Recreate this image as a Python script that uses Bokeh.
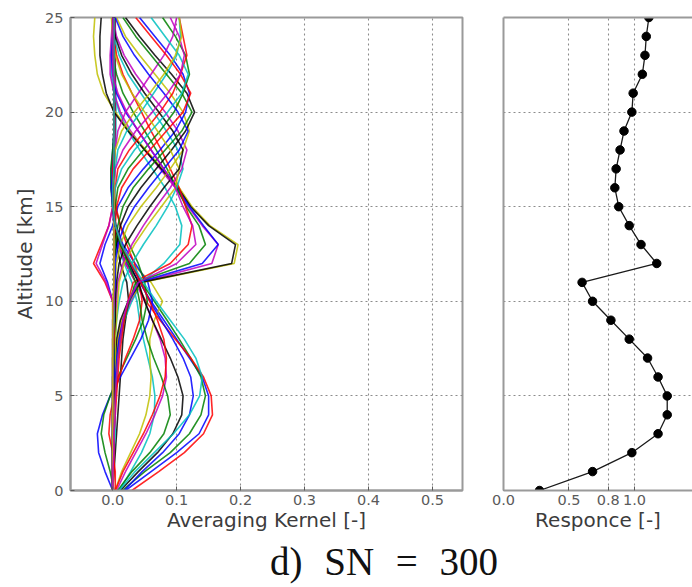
from bokeh.plotting import figure
from bokeh.models import Range1d, FixedTicker, LinearAxis, Div, PrintfTickFormatter
from bokeh.layouts import row, column
from bokeh.embed import file_html
from bokeh.resources import INLINE

# Altitude grid [km]
altitude = list(range(26))

# Averaging kernel rows (value at each altitude 0..25 km)
ak00 = [0.020,0.060,0.100,0.135,0.150,0.150,0.140,0.120,0.100,0.080,0.060,0.042,0.022,0.008,0.002,0.000,-0.002,-0.002,0.000,0.002,0.003,0.003,0.002,0.002,0.002,0.002]
ak01 = [0.015,0.050,0.090,0.120,0.138,0.145,0.138,0.122,0.104,0.085,0.065,0.045,0.028,0.014,0.005,0.000,-0.003,-0.003,0.000,0.002,0.004,0.004,0.004,0.003,0.003,0.003]
ak02 = [0.030,0.072,0.112,0.142,0.156,0.154,0.142,0.122,0.098,0.074,0.052,0.036,0.020,0.010,0.004,0.001,0.000,0.000,0.002,0.003,0.004,0.004,0.003,0.003,0.003,0.003]
ak03 = [0.010,0.028,0.045,0.058,0.065,0.066,0.062,0.055,0.048,0.042,0.038,0.030,0.018,0.008,0.002,0.000,0.000,0.002,0.004,0.005,0.005,0.005,0.004,0.004,0.004,0.004]
ak04 = [0.006,0.020,0.036,0.052,0.066,0.078,0.084,0.082,0.074,0.062,0.050,0.036,0.020,0.008,0.002,0.000,0.000,0.002,0.003,0.004,0.004,0.004,0.004,0.004,0.004,0.004]
ak05 = [0.004,0.014,0.028,0.042,0.052,0.058,0.060,0.058,0.058,0.065,0.078,0.060,0.030,0.012,0.004,0.000,-0.002,0.000,0.002,0.002,0.002,0.002,0.002,0.002,0.002,0.002]
ak06 = [0.000,0.002,0.004,0.006,0.008,0.010,0.012,0.014,0.016,0.020,0.025,0.022,0.012,0.006,0.003,0.002,0.002,0.002,0.002,0.002,0.002,0.002,0.002,0.002,0.002,0.002]
ak07 = [0.000,-0.012,-0.022,-0.024,-0.016,-0.004,0.012,0.028,0.044,0.056,0.062,0.055,0.035,0.016,0.005,0.000,-0.002,0.000,0.002,0.003,0.003,0.003,0.003,0.003,0.003,0.003]
ak08 = [0.002,-0.004,-0.012,-0.018,-0.014,-0.004,0.008,0.022,0.036,0.048,0.054,0.050,0.040,0.026,0.012,0.004,0.000,0.000,0.002,0.003,0.003,0.003,0.003,0.003,0.003,0.003]
ak09 = [0.004,0.004,0.000,-0.006,-0.004,0.002,0.010,0.020,0.032,0.042,0.046,0.042,0.034,0.022,0.012,0.005,0.002,0.002,0.002,0.003,0.003,0.003,0.003,0.003,0.003,0.003]
ak10 = [0.000,0.000,0.002,0.004,0.004,0.004,0.004,0.006,0.010,0.018,0.030,0.045,0.080,0.105,0.108,0.098,0.082,0.062,0.042,0.024,0.010,0.002,-0.002,-0.002,0.000,0.000]
ak11 = [0.000,0.000,0.000,0.002,0.002,0.002,0.002,0.004,0.008,0.016,0.028,0.044,0.155,0.165,0.140,0.118,0.098,0.074,0.050,0.028,0.012,0.002,-0.004,-0.004,-0.002,0.000]
ak12 = [0.000,0.000,0.000,0.000,0.002,0.002,0.002,0.004,0.008,0.014,0.026,0.046,0.190,0.196,0.152,0.124,0.104,0.078,0.052,0.026,0.004,-0.014,-0.024,-0.028,-0.030,-0.028]
ak13 = [0.000,0.000,0.000,0.000,0.000,0.002,0.002,0.004,0.006,0.012,0.024,0.044,0.186,0.192,0.150,0.122,0.102,0.076,0.050,0.024,0.002,-0.010,-0.016,-0.020,-0.020,-0.018]
ak14 = [0.000,0.000,0.000,0.002,0.002,0.002,0.004,0.006,0.010,0.016,0.026,0.040,0.140,0.165,0.142,0.120,0.100,0.080,0.060,0.040,0.020,0.006,0.000,-0.002,0.000,0.000]
ak15 = [0.000,0.000,0.002,0.002,0.002,0.004,0.006,0.008,0.012,0.018,0.026,0.036,0.120,0.145,0.135,0.115,0.100,0.085,0.068,0.050,0.032,0.016,0.006,0.000,0.000,0.000]
ak16 = [0.000,0.002,0.002,0.002,0.004,0.006,0.008,0.010,0.014,0.018,0.024,0.032,0.090,0.118,0.124,0.114,0.104,0.090,0.076,0.060,0.045,0.030,0.016,0.006,0.002,0.000]
ak17 = [0.000,0.000,0.000,0.002,0.002,0.002,0.002,0.002,0.004,0.006,0.010,0.016,0.030,0.048,0.068,0.086,0.100,0.110,0.102,0.084,0.064,0.044,0.024,0.010,0.002,0.000]
ak18 = [0.000,0.000,0.000,0.000,0.002,0.002,0.002,0.002,0.002,0.004,0.006,0.008,0.016,0.030,0.048,0.068,0.090,0.108,0.116,0.102,0.082,0.058,0.036,0.018,0.006,0.000]
ak19 = [0.000,0.000,0.000,0.000,0.000,0.002,0.002,0.002,0.002,0.002,0.004,0.004,0.006,0.012,0.024,0.044,0.068,0.090,0.110,0.120,0.110,0.090,0.066,0.042,0.020,0.006]
ak20 = [0.000,0.000,0.000,0.000,0.000,0.000,0.002,0.002,0.002,0.002,0.002,0.002,0.002,0.006,0.012,0.024,0.044,0.068,0.092,0.114,0.128,0.116,0.092,0.066,0.042,0.020]
ak21 = [0.000,0.000,0.000,0.000,0.000,0.000,0.000,0.002,0.002,0.002,0.000,-0.008,-0.020,-0.012,0.000,0.008,0.024,0.048,0.074,0.098,0.114,0.120,0.110,0.090,0.066,0.042]
ak22 = [0.000,0.000,0.000,0.000,0.000,0.000,0.000,0.000,0.002,0.002,0.002,0.002,0.002,0.002,0.002,0.004,0.008,0.024,0.048,0.074,0.096,0.110,0.120,0.114,0.098,0.078]
ak23 = [0.000,0.000,0.000,0.000,0.000,0.000,0.000,0.000,0.000,0.002,0.000,-0.012,-0.030,-0.018,-0.006,0.000,0.004,0.008,0.026,0.050,0.074,0.094,0.106,0.116,0.110,0.104]
ak24 = [0.000,0.000,0.000,0.000,0.000,0.000,0.000,0.000,0.000,0.000,0.002,0.002,0.002,0.002,0.002,0.002,0.002,0.004,0.008,0.022,0.044,0.064,0.084,0.100,0.106,0.104]
ak25 = [0.000,0.000,0.000,0.000,0.000,0.000,0.000,0.000,0.000,0.000,0.000,-0.010,-0.026,-0.016,-0.006,0.000,0.002,0.002,0.004,0.008,0.020,0.040,0.060,0.080,0.094,0.100]
ak26 = [0.000,0.000,0.000,0.002,0.002,0.002,0.002,0.004,0.004,0.006,0.008,0.010,0.018,0.034,0.054,0.076,0.098,0.104,0.090,0.070,0.050,0.030,0.014,0.004,0.000,-0.002]
ak27 = [0.000,0.000,0.000,0.000,0.000,0.002,0.002,0.002,0.002,0.004,0.004,0.006,0.010,0.020,0.038,0.058,0.080,0.104,0.110,0.094,0.072,0.050,0.030,0.014,0.004,0.000]
ak28 = [0.000,0.000,0.000,0.000,0.000,0.000,0.002,0.002,0.002,0.002,0.002,0.004,0.004,0.008,0.018,0.034,0.056,0.080,0.104,0.118,0.102,0.080,0.056,0.034,0.016,0.004]
ak29 = [0.000,0.000,0.000,0.000,0.000,0.000,0.000,0.002,0.002,0.002,0.002,0.002,0.002,0.004,0.008,0.016,0.032,0.056,0.082,0.108,0.124,0.108,0.084,0.060,0.036,0.016]
ak30 = [0.000,0.000,0.000,0.000,0.000,0.000,0.000,0.000,0.002,0.002,0.002,0.002,0.002,0.002,0.004,0.006,0.014,0.032,0.058,0.084,0.110,0.122,0.106,0.084,0.060,0.036]
ak31 = [0.000,0.000,0.000,0.000,0.000,0.000,0.000,0.000,0.000,0.002,0.002,0.002,0.002,0.002,0.002,0.002,0.004,0.014,0.034,0.060,0.086,0.108,0.118,0.104,0.082,0.060]
ak32 = [0.000,0.000,0.000,0.000,0.000,0.000,0.000,0.000,0.000,0.000,0.002,0.002,0.002,0.002,0.002,0.002,0.002,0.004,0.016,0.036,0.062,0.086,0.106,0.112,0.104,0.090]
ak33 = [0.000,0.000,0.000,0.000,0.000,0.000,0.000,0.000,0.000,0.000,0.000,0.002,0.002,0.002,0.002,0.002,0.002,0.002,0.004,0.014,0.034,0.058,0.080,0.098,0.108,0.104]
ak34 = [0.012,0.040,0.070,0.094,0.108,0.110,0.102,0.090,0.076,0.062,0.050,0.040,0.026,0.012,0.004,0.000,0.000,0.002,0.002,0.002,0.002,0.002,0.002,0.002,0.002,0.002]
ak35 = [0.018,0.046,0.078,0.104,0.120,0.126,0.122,0.110,0.094,0.076,0.058,0.044,0.028,0.014,0.004,0.000,-0.002,0.000,0.002,0.002,0.002,0.002,0.002,0.002,0.002,0.002]
ak36 = [0.008,0.030,0.058,0.080,0.090,0.086,0.076,0.064,0.054,0.046,0.042,0.036,0.024,0.012,0.004,0.000,0.000,0.002,0.002,0.002,0.002,0.002,0.002,0.002,0.002,0.002]
ak37 = [0.004,0.016,0.032,0.048,0.062,0.074,0.082,0.084,0.080,0.070,0.058,0.044,0.028,0.014,0.004,0.000,0.000,0.000,0.002,0.002,0.002,0.002,0.002,0.002,0.002,0.002]
ak38 = [0.010,0.035,0.065,0.095,0.120,0.136,0.140,0.130,0.112,0.090,0.068,0.048,0.030,0.014,0.004,0.000,0.000,0.002,0.002,0.002,0.002,0.002,0.002,0.002,0.002,0.002]
ak39 = [0.000,0.000,0.002,0.002,0.004,0.004,0.006,0.008,0.012,0.016,0.024,0.040,0.100,0.130,0.125,0.110,0.098,0.080,0.060,0.040,0.022,0.008,0.000,0.000,0.000,0.000]

kernels = [ak00, ak01, ak02, ak03, ak04, ak05, ak06, ak07, ak08, ak09,
           ak10, ak11, ak12, ak13, ak14, ak15, ak16, ak17, ak18, ak19,
           ak20, ak21, ak22, ak23, ak24, ak25, ak26, ak27, ak28, ak29,
           ak30, ak31, ak32, ak33, ak34, ak35, ak36, ak37, ak38, ak39]

# Response at each altitude
response = [0.275,0.68,0.98,1.18,1.25,1.25,1.18,1.10,0.96,0.82,0.68,0.60,1.17,1.05,0.96,
            0.88,0.85,0.86,0.89,0.92,0.98,0.99,1.06,1.08,1.09,1.11]

ak_ticks = [0.0, 0.1, 0.2, 0.3, 0.4, 0.5]
resp_ticks = [0.0, 0.5, 0.8, 1.0]
alt_ticks = [0, 5, 10, 15, 20, 25]

cycle = ["#0000ff", "#008000", "#ff0000", "#00bfbf", "#bf00bf", "#bfbf00", "#000000"]

SPINE = "#9a9a9a"
TICKC = "#5a5a5a"
LABC = "#3c3c3c"
GRIDC = "#8c8c8c"
FONT = "DejaVu Sans"


def style_axis(ax, standoff):
    ax.axis_line_color = SPINE
    ax.axis_line_width = 2
    ax.major_tick_in = 4
    ax.major_tick_out = 0
    ax.major_tick_line_color = TICKC
    ax.minor_tick_line_color = None
    ax.major_label_text_font = FONT
    ax.major_label_text_font_size = "14.5px"
    ax.major_label_text_color = TICKC
    ax.major_label_standoff = standoff
    ax.axis_label_text_font = FONT
    ax.axis_label_text_font_size = "20px"
    ax.axis_label_text_font_style = "normal"
    ax.axis_label_text_color = LABC


def style_grid(p):
    for g in (p.xgrid, p.ygrid):
        g.grid_line_color = GRIDC
        g.grid_line_dash = "2 3"
        g.grid_line_width = 1.1


# ---------- left panel: averaging kernels ----------
p1 = figure(width=488, height=537, x_range=Range1d(-0.066, 0.547), y_range=Range1d(0, 25),
            output_backend="svg", toolbar_location=None,
            min_border_left=70, min_border_right=26, min_border_top=17, min_border_bottom=47)
p1.outline_line_color = SPINE
p1.outline_line_width = 2
p1.background_fill_color = "white"
p1.border_fill_color = "white"

for i, ak in enumerate(kernels):
    p1.line(ak, altitude, line_color=cycle[i % 7], line_width=1.6, line_alpha=0.85)

p1.xaxis.ticker = FixedTicker(ticks=ak_ticks)
p1.yaxis.ticker = FixedTicker(ticks=alt_ticks)
p1.xaxis.formatter = PrintfTickFormatter(format="%.1f")
style_axis(p1.xaxis[0], 4)
style_axis(p1.yaxis[0], 7)
p1.xaxis.axis_label = "Averaging Kernel [-]"
p1.yaxis.axis_label = "Altitude [km]"
p1.xaxis.axis_label_standoff = 0
p1.yaxis.axis_label_standoff = 5
style_grid(p1)

# ---------- right panel: response ----------
p2 = figure(width=204, height=537, x_range=Range1d(0, 1.443), y_range=Range1d(0, 25),
            output_backend="svg", toolbar_location=None,
            min_border_left=15, min_border_right=0, min_border_top=17, min_border_bottom=47)
p2.outline_line_color = None
p2.background_fill_color = "white"
p2.border_fill_color = "white"

p2.line(response, altitude, line_color="#1a1a1a", line_width=1.3)
p2.scatter(response, altitude, size=8.5, fill_color="black", line_color="black")

p2.xaxis.ticker = FixedTicker(ticks=resp_ticks)
p2.xaxis.formatter = PrintfTickFormatter(format="%.1f")
p2.yaxis.ticker = FixedTicker(ticks=[])
p2.ygrid.ticker = FixedTicker(ticks=alt_ticks)
style_axis(p2.xaxis[0], 4)
style_axis(p2.yaxis[0], 0)
p2.xaxis.axis_label = "Responce [-]"
p2.xaxis.axis_label_standoff = 0
style_grid(p2)

top_axis = LinearAxis(ticker=FixedTicker(ticks=[]), axis_line_color=SPINE, axis_line_width=2,
                      major_tick_in=0, major_tick_out=0, minor_tick_in=0, minor_tick_out=0)
p2.add_layout(top_axis, "above")

title = Div(text='<div style="font-family:\'Liberation Serif\',\'DejaVu Serif\',serif;'
                 'font-size:39px;line-height:39px;color:#111111;word-spacing:12px;'
                 'padding-left:265px;padding-top:0px;white-space:nowrap;">d) SN = 300</div>',
            width=692, height=40)

layout = column(row(p1, p2), title)

open("out.html", "w").write(file_html(layout, INLINE))
